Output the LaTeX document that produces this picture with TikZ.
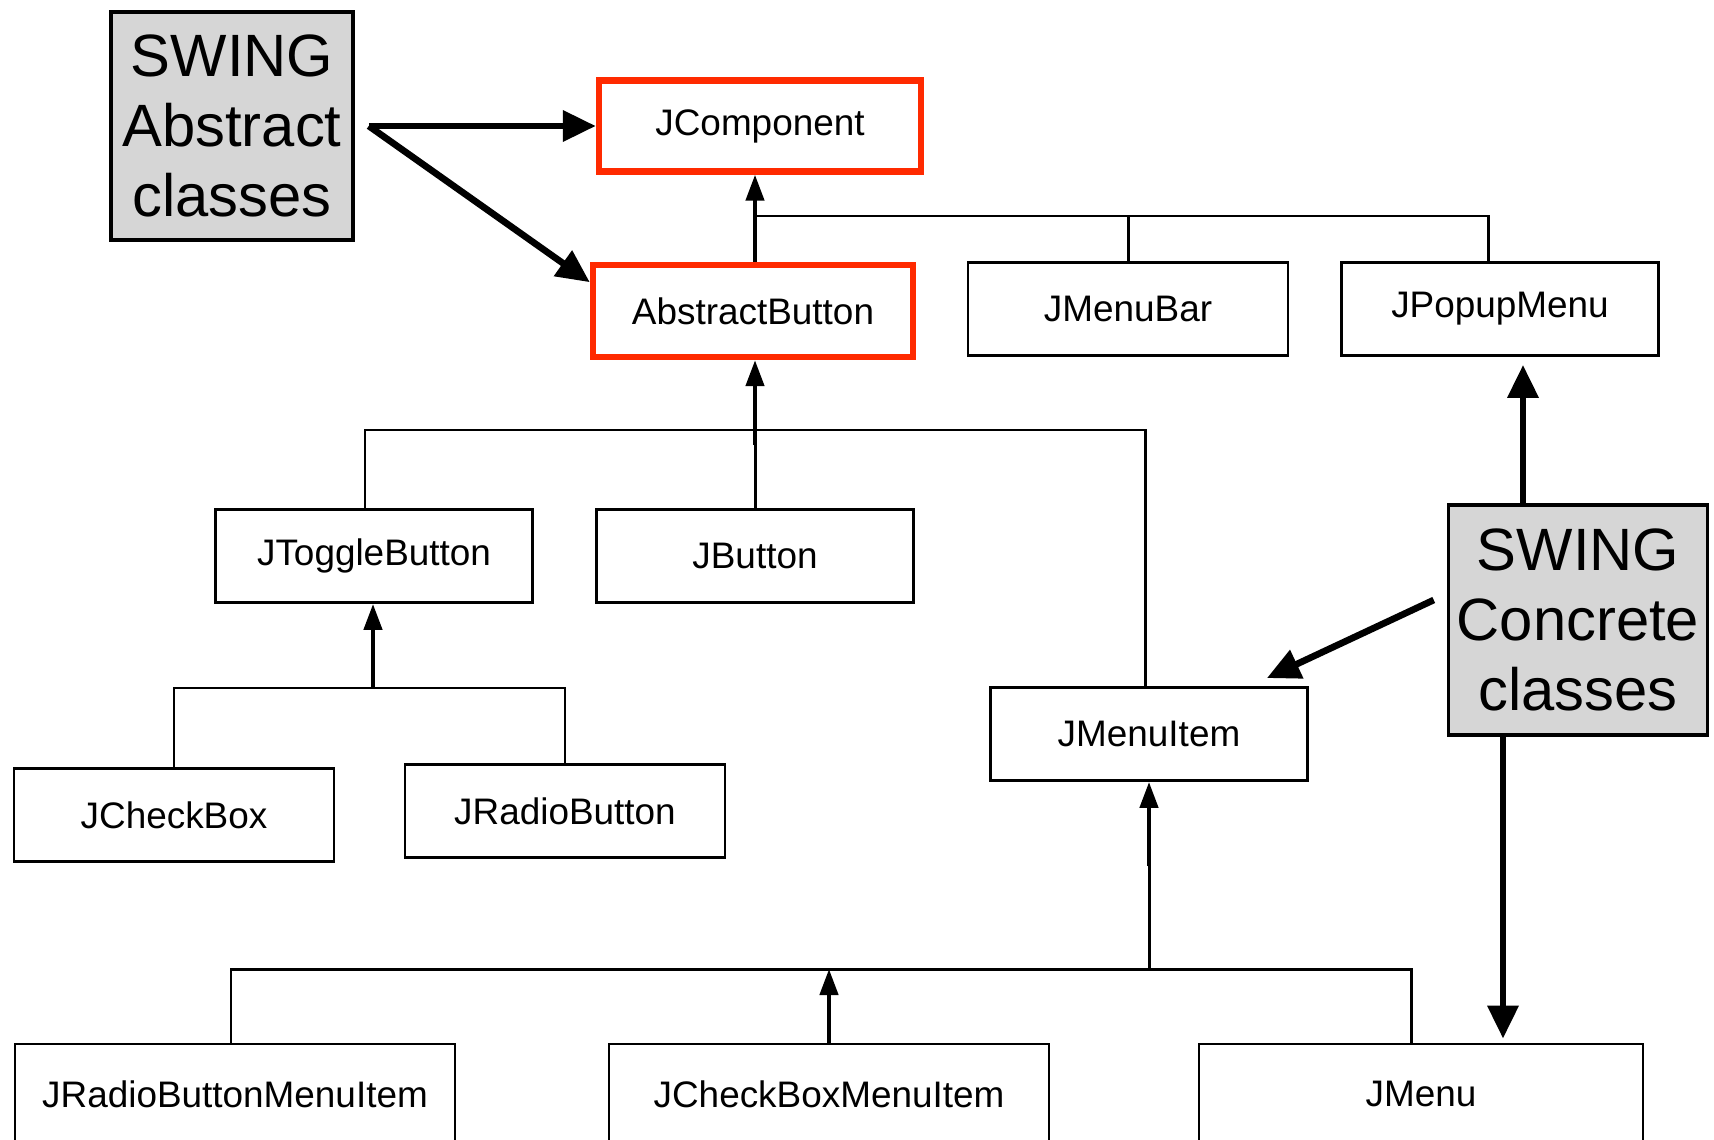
\documentclass[tikz,border=0pt]{standalone}
\usepackage{fontspec}
\setmainfont{Liberation Sans}
\usetikzlibrary{arrows.meta,positioning}
\definecolor{hilite}{HTML}{FF2A00}
\definecolor{notegray}{HTML}{D6D6D6}

\begin{document}
\begin{tikzpicture}[
  cls/.style={draw,line width=0.8pt,minimum width=3.17cm,minimum height=0.93cm,inner sep=0pt,font=\fontsize{10.5}{13}\selectfont},
  abstractcls/.style={cls,draw=hilite,line width=1.8pt},
  note/.style={draw,fill=notegray,line width=1pt,inner sep=0pt,align=center,font=\fontsize{17}{20}\selectfont},
  link/.style={line width=0.85pt},
  inherit/.style={line width=1.25pt,-{Triangle[length=0.26cm,width=0.18cm]}},
  pointer/.style={line width=1.9pt,-{Triangle[length=0.33cm,width=0.3cm]}}
]
  \useasboundingbox (0,0) rectangle (17.14,11.39);
  \clip (0,0) rectangle (17.14,11.39);

  % Abstract classes
  \node[abstractcls,minimum width=3.22cm,minimum height=0.91cm] (jc) at (7.60,10.13) {JComponent};
  \node[abstractcls,minimum width=3.20cm,minimum height=0.92cm] (ab) at (7.53,8.28) {AbstractButton};

  % Second row
  \node[cls,minimum width=3.20cm] (mb) at (11.28,8.30) {JMenuBar};
  \node[cls] (pop) at (15.00,8.30) {JPopupMenu};

  % Buttons
  \node[cls] (tb) at (3.74,5.83) {JToggleButton};
  \node[cls] (jb) at (7.55,5.83) {JButton};
  \node[cls,minimum width=3.20cm] (cb) at (1.74,3.24) {JCheckBox};
  \node[cls,minimum width=3.20cm] (rb) at (5.65,3.28) {JRadioButton};

  % Menus
  \node[cls] (mi) at (11.49,4.05) {JMenuItem};
  \node[cls,minimum width=4.40cm,minimum height=1.0cm] (rbmi) at (2.35,0.45) {JRadioButtonMenuItem};
  \node[cls,minimum width=4.40cm,minimum height=1.0cm] (cbmi) at (8.29,0.45) {JCheckBoxMenuItem};
  \node[cls,minimum width=4.44cm,minimum height=1.0cm] (menu) at (14.21,0.45) {JMenu};

  % Notes
  \node[note,minimum width=2.42cm,minimum height=2.28cm] (absnote) at (2.32,10.13) {SWING\\Abstract\\classes};
  \node[note,minimum width=2.59cm,minimum height=2.30cm] (concnote) at (15.78,5.19) {SWING\\Concrete\\classes};

  % Hierarchy under JComponent
  \coordinate (j1) at (7.55,9.23);
  \draw[link] (j1) -| (mb.north);
  \draw[link] (j1) -| ([xshift=-0.12cm]pop.north);
  \draw[inherit] (ab.north -| j1) -- (jc.south -| j1);

  % Hierarchy under AbstractButton
  \coordinate (j2) at (7.55,7.09);
  \draw[link] ([xshift=-0.09cm]tb.north) |- (j2) -| ([xshift=-0.04cm]mi.north);
  \draw[link] (j2) -- (jb.north -| j2);
  \draw[inherit] ([yshift=-0.15cm]j2) -- (ab.south -| j2);

  % Hierarchy under JToggleButton
  \coordinate (j3) at (3.73,4.51);
  \draw[link] (cb.north) |- (j3) -| (rb.north);
  \draw[inherit] (j3) -- (tb.south -| j3);

  % Hierarchy under JMenuItem
  \coordinate (j4) at (11.49,1.70);
  \coordinate (j4up) at (11.49,2.73);
  \draw[link] ([xshift=-0.04cm]rbmi.north) |- (j4) -| ([xshift=-0.1cm]menu.north);
  \draw[link] (j4) -- (j4up);
  \draw[inherit] (j4up) -- (mi.south);
  \draw[inherit] (cbmi.north) -- (cbmi.north |- j4);

  % Pointers from the notes
  \coordinate (absout) at ([xshift=0.14cm]absnote.east);
  \draw[pointer] (absout) -- (jc.west);
  \draw[pointer] (absout) -- (ab.170);

  \coordinate (popin) at ([xshift=0.23cm]pop.south);
  \coordinate (menuin) at ([xshift=0.82cm]menu.north);
  \draw[pointer,shorten >=0.08cm] (concnote.north -| popin) -- (popin);
  \draw[pointer] ([xshift=-0.13cm,yshift=0.2cm]concnote.west) -- ([xshift=-0.42cm,yshift=0.08cm]mi.north east);
  \draw[pointer,shorten >=0.04cm] (concnote.south -| menuin) -- (menuin);
\end{tikzpicture}
\end{document}
